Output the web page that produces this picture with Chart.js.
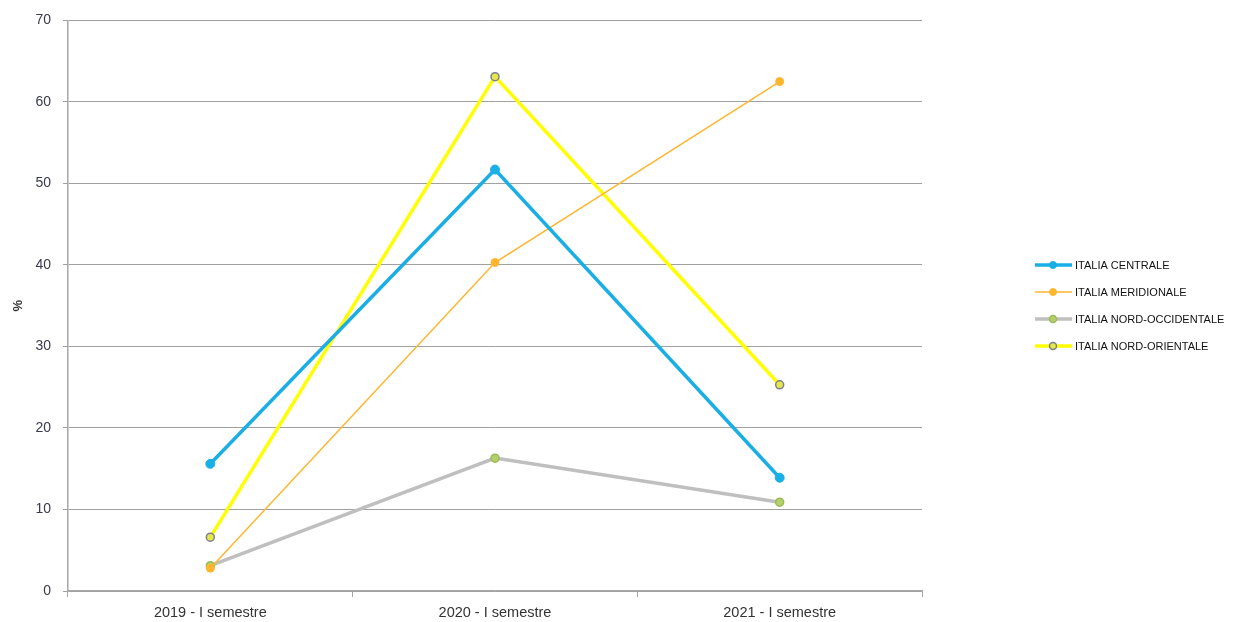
<!DOCTYPE html>
<html>
<head>
<meta charset="utf-8">
<script src="https://cdn.jsdelivr.net/npm/chart.js@4/dist/chart.umd.min.js"></script>
<style>
html,body{margin:0;padding:0;background:#fff;}
#wrap{width:1237px;height:622px;position:relative;}
</style>
</head>
<body>
<div id="wrap"><canvas id="c" width="1237" height="622"></canvas></div>
<script>
const categories = ["2019 - I semestre", "2020 - I semestre", "2021 - I semestre"];
const seriesNames = ["ITALIA CENTRALE", "ITALIA MERIDIONALE", "ITALIA NORD-OCCIDENTALE", "ITALIA NORD-ORIENTALE"];
const centrale = [15.6, 51.7, 13.9];
const meridionale = [2.8, 40.3, 62.5];
const nordOccidentale = [3.1, 16.3, 10.9];
const nordOrientale = [6.6, 63.1, 25.3];
const yTicks = [0, 10, 20, 30, 40, 50, 60, 70];

const styles = [
  {line:"#1AAEE6", width:3.5, pFill:"#1AAEE6", pBorder:"#1AAEE6", r:4.5, pbw:1},
  {line:"#FFB62E", width:1.5, pFill:"#FFB62E", pBorder:"#FFB62E", r:4, pbw:1},
  {line:"#BFBFBF", width:3.5, pFill:"#B5CF6B", pBorder:"#9BBB59", r:4, pbw:1.5},
  {line:"#FFFF00", width:3.5, pFill:"#E6E64D", pBorder:"#7F7F8F", r:4, pbw:1.5}
];
const values = [centrale, meridionale, nordOccidentale, nordOrientale];

const datasets = values.map((v,i)=>({
  label: seriesNames[i],
  data: v,
  borderColor: styles[i].line,
  backgroundColor: styles[i].pFill,
  borderWidth: styles[i].width,
  pointRadius: styles[i].r,
  pointHoverRadius: styles[i].r,
  pointBackgroundColor: styles[i].pFill,
  pointBorderColor: styles[i].pBorder,
  pointBorderWidth: styles[i].pbw,
  tension: 0,
  fill: false
}));

const legendPlugin = {
  id: 'customLegend',
  afterDraw(chart){
    const ctx = chart.ctx;
    ctx.save();
    const x0 = 1035, x1 = 1072, xm = 1053, tx = 1075;
    const ys = [265, 292, 319, 346];
    ctx.font = "11px 'Liberation Sans', Arial, sans-serif";
    ctx.textBaseline = 'middle';
    ctx.textAlign = 'left';
    seriesNames.forEach((n,i)=>{
      const s = styles[i];
      ctx.strokeStyle = s.line;
      ctx.lineWidth = s.width;
      ctx.beginPath(); ctx.moveTo(x0, ys[i]); ctx.lineTo(x1, ys[i]); ctx.stroke();
      ctx.beginPath(); ctx.arc(xm, ys[i], 3.5, 0, Math.PI*2);
      ctx.fillStyle = s.pFill; ctx.fill();
      ctx.lineWidth = s.pbw; ctx.strokeStyle = s.pBorder; ctx.stroke();
      ctx.fillStyle = '#111111';
      ctx.fillText(n, tx, ys[i]+0.5);
    });
    ctx.restore();
  }
};

new Chart(document.getElementById('c'), {
  type: 'line',
  data: { labels: categories, datasets: datasets },
  options: {
    responsive: false,
    animation: false,
    devicePixelRatio: 1,
    layout: { padding: { left: 0, right: 315, top: 20, bottom: 0 } },
    plugins: { legend: { display: false }, tooltip: { enabled: false } },
    scales: {
      x: {
        type: 'category',
        offset: true,
        grid: { offset: true, drawOnChartArea: false, drawTicks: true, tickLength: 6, color: '#A6A6A6', lineWidth: 1 },
        border: { color: '#A6A6A6', width: 1.5 },
        ticks: { color: '#333333', font: { family: "'Liberation Sans', Arial, sans-serif", size: 14.5 }, padding: 7, maxRotation: 0 },
        afterFit(s){ s.height = 31; }
      },
      y: {
        min: 0, max: 70,
        afterBuildTicks(s){ s.ticks = yTicks.map(v=>({value:v})); },
        grid: { color: '#A0A0A0', lineWidth: 1, drawTicks: true, tickLength: 5 },
        border: { color: '#A6A6A6', width: 1.5 },
        ticks: { color: '#3A3A4A', font: { family: "'Liberation Sans', Arial, sans-serif", size: 14 }, padding: 12 },
        title: { display: true, text: '%', color: '#333333', font: { family: "'Liberation Sans', Arial, sans-serif", size: 13, weight: 'bold' }, padding: { top: 11, bottom: 4 } },
        afterFit(s){ s.width = 68; }
      }
    }
  },
  plugins: [legendPlugin]
});
</script>
</body>
</html>
